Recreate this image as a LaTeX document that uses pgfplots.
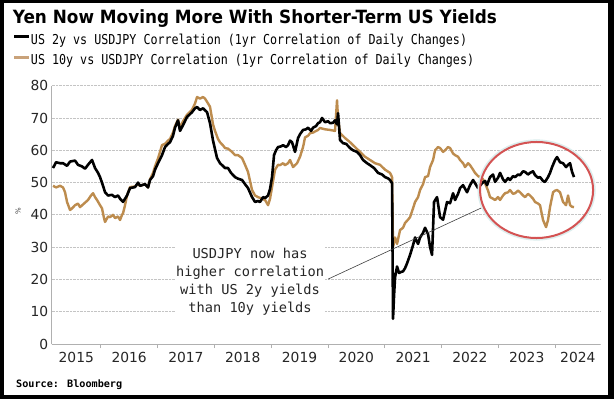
\documentclass[border=0pt]{standalone}
\usepackage{graphicx}
\usepackage{pgfplots}
\usepackage{pgfplotstable}
\pgfplotsset{compat=1.18}
\usepackage{fontspec}
\setmainfont{DejaVu Sans}
\newfontfamily\bbg[FakeStretch=0.856]{DejaVu Sans Mono}
\newfontfamily\annfont{DejaVu Sans Mono}
\newfontfamily\titlefont{DejaVu Sans}
\definecolor{tan}{HTML}{BD8C4E}
\definecolor{tanleg}{HTML}{C9A27A}
\definecolor{gridc}{HTML}{C4C4C4}
\definecolor{axc}{HTML}{B0B0B0}
\definecolor{ellred}{HTML}{D45353}
\definecolor{halo}{HTML}{DCEEEE}

\pgfplotstableread{
x y
2015.160 54.5
2015.213 56.3
2015.283 56.0
2015.336 56.0
2015.407 55.2
2015.460 56.5
2015.548 56.8
2015.600 55.5
2015.671 55.0
2015.724 54.3
2015.776 55.5
2015.847 57.0
2015.900 54.5
2015.953 53.0
2015.988 51.7
2016.041 49.0
2016.076 47.0
2016.129 46.0
2016.199 46.2
2016.252 45.5
2016.305 46.0
2016.340 45.0
2016.393 44.0
2016.428 45.0
2016.463 46.0
2016.516 48.3
2016.604 48.6
2016.657 50.0
2016.692 49.0
2016.780 49.5
2016.833 48.5
2016.868 50.8
2016.921 52.0
2016.956 54.0
2017.009 56.0
2017.079 58.5
2017.132 61.0
2017.185 62.0
2017.220 62.5
2017.273 64.5
2017.308 67.0
2017.361 69.3
2017.396 66.0
2017.449 67.8
2017.519 70.3
2017.607 71.8
2017.660 73.0
2017.696 73.4
2017.748 72.5
2017.801 73.0
2017.872 71.8
2017.924 68.4
2017.977 63.0
2018.048 57.6
2018.100 56.0
2018.136 55.4
2018.188 54.5
2018.241 54.5
2018.294 53.0
2018.365 51.7
2018.417 51.2
2018.488 50.8
2018.541 49.5
2018.593 48.3
2018.664 45.5
2018.717 44.0
2018.769 44.3
2018.805 44.0
2018.858 45.5
2018.893 45.2
2018.946 46.0
2018.981 48.0
2019.016 51.7
2019.051 58.5
2019.086 60.0
2019.122 61.0
2019.174 61.2
2019.210 61.6
2019.263 61.0
2019.298 61.6
2019.333 63.0
2019.368 62.5
2019.421 59.5
2019.474 63.8
2019.509 65.0
2019.562 66.3
2019.615 66.5
2019.650 67.0
2019.703 66.0
2019.738 67.0
2019.791 67.5
2019.826 68.4
2019.861 68.7
2019.896 70.0
2019.949 68.7
2020.002 69.0
2020.037 68.4
2020.090 68.5
2020.125 69.3
2020.160 68.0
2020.178 71.5
2020.213 63.2
2020.266 62.2
2020.319 62.0
2020.389 60.7
2020.442 60.0
2020.512 59.5
2020.565 58.5
2020.618 57.0
2020.689 56.0
2020.741 55.4
2020.812 54.5
2020.882 53.0
2020.953 52.5
2021.005 51.7
2021.058 51.3
2021.093 50.8
2021.129 49.8
2021.146 7.8
2021.164 15.0
2021.182 20.7
2021.217 24.0
2021.252 22.0
2021.287 22.3
2021.322 22.5
2021.358 23.5
2021.393 25.0
2021.446 27.6
2021.498 30.6
2021.534 33.0
2021.587 31.0
2021.622 33.0
2021.674 34.4
2021.710 36.0
2021.763 34.0
2021.798 30.0
2021.833 27.6
2021.868 44.0
2021.921 45.5
2021.974 39.3
2022.027 38.5
2022.097 44.0
2022.150 43.6
2022.203 46.7
2022.238 44.6
2022.291 46.5
2022.326 48.3
2022.379 49.2
2022.449 47.0
2022.502 49.2
2022.555 50.8
2022.590 49.8
2022.643 48.3
2022.713 49.8
2022.766 50.5
2022.801 49.2
2022.854 51.7
2022.907 52.5
2022.942 50.2
2022.995 51.5
2023.030 53.0
2023.083 51.0
2023.118 50.2
2023.171 51.4
2023.206 50.8
2023.259 52.0
2023.294 51.7
2023.347 52.5
2023.382 52.3
2023.435 53.5
2023.470 53.3
2023.523 52.5
2023.558 53.0
2023.611 53.5
2023.646 52.3
2023.699 51.5
2023.734 51.7
2023.787 50.5
2023.822 50.2
2023.875 51.7
2023.910 53.0
2023.946 54.8
2023.999 57.0
2024.034 57.9
2024.086 56.3
2024.139 56.0
2024.192 54.8
2024.227 55.5
2024.263 56.0
2024.298 53.3
2024.333 51.7
}\twoy

\pgfplotstableread{
x y
2015.160 49.0
2015.213 48.5
2015.283 49.0
2015.336 48.5
2015.372 47.0
2015.407 44.0
2015.460 41.5
2015.495 42.0
2015.548 43.0
2015.600 43.5
2015.636 42.4
2015.706 43.5
2015.776 44.6
2015.829 46.0
2015.865 46.7
2015.900 45.5
2015.935 44.6
2015.988 43.0
2016.023 42.0
2016.058 39.0
2016.076 37.8
2016.129 39.5
2016.164 39.3
2016.217 40.0
2016.252 39.0
2016.305 39.5
2016.340 38.4
2016.375 40.0
2016.393 40.5
2016.428 43.0
2016.463 46.0
2016.516 48.6
2016.604 48.8
2016.657 49.5
2016.692 49.0
2016.780 49.5
2016.833 48.5
2016.868 51.0
2016.921 53.0
2016.956 55.0
2017.009 57.5
2017.044 59.5
2017.079 61.6
2017.132 62.0
2017.185 63.0
2017.220 63.5
2017.273 65.5
2017.308 67.5
2017.361 69.5
2017.396 67.0
2017.449 69.0
2017.519 71.0
2017.607 72.5
2017.660 74.5
2017.696 76.5
2017.748 76.0
2017.801 76.5
2017.836 76.0
2017.872 75.0
2017.924 73.5
2017.977 68.0
2018.012 66.0
2018.065 63.5
2018.100 62.5
2018.153 61.5
2018.188 60.7
2018.241 60.5
2018.312 59.5
2018.365 58.5
2018.417 58.5
2018.488 57.6
2018.541 55.5
2018.593 53.3
2018.664 47.7
2018.717 46.0
2018.769 45.5
2018.840 45.0
2018.893 44.6
2018.946 43.0
2018.981 45.0
2019.016 48.6
2019.069 54.0
2019.122 55.5
2019.157 55.4
2019.210 56.0
2019.245 55.4
2019.298 56.0
2019.333 57.0
2019.386 54.8
2019.456 56.0
2019.509 58.0
2019.562 61.0
2019.597 64.0
2019.650 64.5
2019.685 65.3
2019.738 65.5
2019.826 66.3
2019.861 66.9
2019.949 66.5
2020.037 66.3
2020.125 66.0
2020.160 75.5
2020.178 70.0
2020.213 65.3
2020.301 63.8
2020.389 62.5
2020.477 61.0
2020.565 59.5
2020.653 58.0
2020.741 57.0
2020.829 56.0
2020.917 55.5
2021.005 54.0
2021.093 53.0
2021.129 51.7
2021.146 30.0
2021.182 33.0
2021.217 31.0
2021.270 35.3
2021.322 36.0
2021.358 37.5
2021.410 38.5
2021.446 39.3
2021.498 42.0
2021.534 44.0
2021.587 45.5
2021.622 47.7
2021.674 49.5
2021.710 51.7
2021.763 52.0
2021.798 54.8
2021.851 57.0
2021.886 60.0
2021.939 61.0
2021.974 60.7
2022.027 59.5
2022.062 60.0
2022.115 61.0
2022.150 60.7
2022.203 59.0
2022.238 58.5
2022.291 58.0
2022.326 57.0
2022.379 56.0
2022.414 54.8
2022.467 56.0
2022.502 55.4
2022.555 54.0
2022.590 53.0
2022.643 52.0
2022.678 51.7
2022.731 51.0
2022.766 49.8
2022.819 47.5
2022.854 45.5
2022.907 45.0
2022.942 44.6
2022.995 45.5
2023.030 44.6
2023.083 46.0
2023.118 46.7
2023.171 47.0
2023.206 47.7
2023.259 46.5
2023.294 46.7
2023.347 47.5
2023.382 47.0
2023.435 46.0
2023.470 45.5
2023.523 46.5
2023.558 46.0
2023.611 45.0
2023.646 44.0
2023.699 43.5
2023.734 43.0
2023.787 38.4
2023.840 36.2
2023.875 38.4
2023.910 42.4
2023.963 47.0
2023.999 47.5
2024.034 47.7
2024.086 47.0
2024.139 44.0
2024.192 43.0
2024.227 46.0
2024.263 43.0
2024.298 42.5
2024.333 42.4
}\tenyy

\begin{document}
\begin{tikzpicture}[x=1bp,y=1bp]
\useasboundingbox (0,0) rectangle (614,-399);
\fill[black] (0,0) rectangle (614,-399);
\fill[white] (4,-3) rectangle (608,-395);

\node[anchor=base west, inner sep=0] at (12.7,-23.3)
  {\resizebox{484bp}{\height}{\titlefont\bfseries\fontsize{18.3}{20}\selectfont Yen Now Moving More With Shorter-Term US Yields}};

\node[anchor=base west, inner sep=0, font=\annfont\bfseries\fontsize{10.2}{12}\selectfont] at (16,-387) {Source: Bloomberg};
\node[rotate=90, inner sep=0, font=\fontsize{7}{7}\selectfont, text=black!70] at (18,-211) {\%};

\begin{axis}[
  at={(51.7bp,-344bp)}, anchor=south west,
  scale only axis, width=548.3bp, height=258.3bp,
  xmin=2015.137, xmax=2024.79, ymin=0, ymax=80,
  axis x line=bottom, axis y line=left,
  axis line style={draw=axc, line width=0.8bp, -},
  xtick={2016,2017,2018,2019,2020,2021,2022,2023,2024},
  xticklabels={},
  xtick align=outside, ytick align=inside,
  major tick length=4bp,
  x tick style={draw=axc, line width=0.8bp},
  ytick={0,10,20,30,40,50,60,70,80},
  y tick style={draw=none},
  ymajorgrids,
  grid style={densely dotted, gridc, line width=0.8bp},
  extra x ticks={2015.57,2016.5,2017.5,2018.5,2019.5,2020.5,2021.5,2022.5,2023.5,2024.4},
  extra x tick labels={2015,2016,2017,2018,2019,2020,2021,2022,2023,2024},
  extra x tick style={x tick style={draw=none}, major tick length=0pt},
  tick label style={font=\fontsize{13.9}{14}\selectfont, text=black!85},
  xticklabel style={yshift=-5bp},
  /pgf/number format/assume math mode=true,
  legend style={at={(axis description cs:-0.0706,1.2001)}, anchor=north west,
    draw=none, fill=none, inner sep=0pt, outer sep=0pt, row sep=7.3bp,
    font=\bbg\fontsize{13.7}{16}\selectfont,
    nodes={inner sep=0pt, text height=10bp, text depth=3.3bp},
    /tikz/every even column/.append style={column sep=4bp}},
  legend cell align=left,
  legend image code/.code={\draw[#1, line width=3bp] (0bp,3.8bp) -- (15bp,3.8bp);},
]
\addlegendimage{black}
\addlegendentry{US 2y vs USDJPY Correlation (1yr Correlation of Daily Changes)}
\addlegendimage{tanleg}
\addlegendentry{US 10y vs USDJPY Correlation (1yr Correlation of Daily Changes)}

\addplot[tan, line width=2.4bp, line join=round, forget plot] table[x=x,y=y] {\tenyy};
\addplot[black, line width=2.6bp, line join=round, forget plot] table[x=x,y=y] {\twoy};

\draw[black!75, line width=0.6bp] (axis cs:2020.002,20.1) -- (axis cs:2022.731,42.4);
\node[align=center, anchor=north, inner sep=1bp, fill=white, text=black!85,
  font=\annfont\fontsize{13.7}{18}\selectfont] at (axis cs:2018.629,30.0)
  {USDJPY now has\\higher correlation\\with US 2y yields\\than 10y yields};

\draw[halo, line width=3bp] (axis cs:2023.673,47.7) ellipse [x radius=1.015, y radius=15.2];
\draw[ellred, line width=2bp] (axis cs:2023.673,47.7) ellipse [x radius=0.995, y radius=14.87];
\end{axis}
\end{tikzpicture}
\end{document}
